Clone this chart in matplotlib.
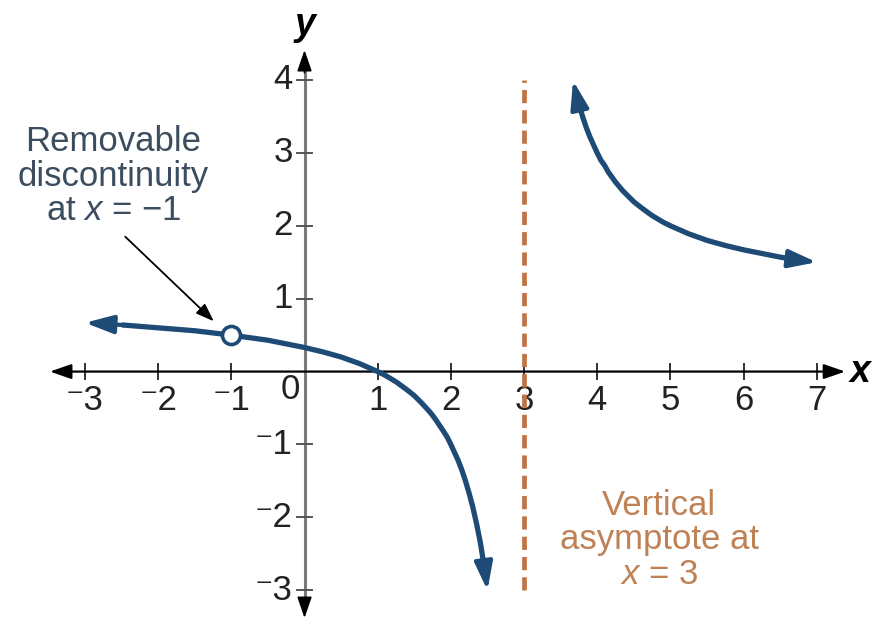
import matplotlib
matplotlib.use("Agg")
import matplotlib.pyplot as plt

plt.rcParams['font.family'] = ['Liberation Sans', 'DejaVu Sans']
plt.rcParams['mathtext.fontset'] = 'custom'
plt.rcParams['mathtext.it'] = 'Liberation Sans:italic'
plt.rcParams['mathtext.rm'] = 'Liberation Sans'

# branch left of the asymptote (x < 3)
left_x = [-3.0, -2.5, -2.0, -1.5, -1.0, -0.5, 0.0, 0.25, 0.5, 0.75, 1.0, 1.1, 1.25,
          1.4, 1.5, 1.6, 1.7, 1.75, 1.8, 1.9, 1.95, 2.0, 2.05, 2.1, 2.15, 2.2,
          2.25, 2.3, 2.35, 2.4, 2.42, 2.45, 2.47, 2.5]
left_y = [0.67, 0.64, 0.60, 0.56, 0.50, 0.43, 0.33, 0.27, 0.20, 0.11, 0.00, -0.05, -0.14,
          -0.25, -0.33, -0.43, -0.54, -0.60, -0.67, -0.82, -0.90, -1.00, -1.11, -1.22, -1.35, -1.50,
          -1.67, -1.86, -2.08, -2.33, -2.45, -2.64, -2.77, -3.00]
# branch right of the asymptote (x > 3)
right_x = [3.67, 3.7, 3.72, 3.75, 3.77, 3.8, 3.82, 3.85, 3.9, 3.95, 4.0, 4.05, 4.1,
           4.15, 4.2, 4.25, 4.35, 4.4, 4.5, 4.6, 4.75, 4.9, 5.0, 5.25, 5.5, 5.75,
           6.0, 6.25, 6.5, 6.75, 7.0]
right_y = [3.99, 3.86, 3.78, 3.67, 3.60, 3.50, 3.44, 3.35, 3.22, 3.11, 3.00, 2.90, 2.83,
           2.74, 2.67, 2.60, 2.48, 2.43, 2.33, 2.25, 2.14, 2.05, 2.00, 1.89, 1.80, 1.73,
           1.67, 1.62, 1.57, 1.53, 1.50]

hole = (-1, 0.5)
asym_x = 3
asym_span = (-3, 4)

x_ticks = [-3, -2, -1, 1, 2, 3, 4, 5, 6, 7]
y_ticks = [-3, -2, -1, 1, 2, 3, 4]

NAVY = '#1d4b76'
ORANGE = '#c07445'
ORANGE_TXT = '#bf8256'
SLATE = '#3b4d5e'
FS = 25


def lab(v):
    return ('\u207b' + str(-v)) if v < 0 else str(v)


fig = plt.figure(figsize=(8.75, 6.3), dpi=100)
ax = fig.add_axes([0, 0, 1, 1])
ax.set_xlim(-4.162, 7.797)
ax.set_ylim(-3.545, 5.097)
ax.axis('off')

# x axis (black, arrow both ends)
ax.annotate('', xy=(7.39, 0), xytext=(-3.48, 0),
            arrowprops=dict(arrowstyle='<|-|>,head_length=13,head_width=4.5',
                            mutation_scale=1, color='black', lw=1.6,
                            shrinkA=0, shrinkB=0))
# y axis (gray shaft, black heads)
ax.plot([0, 0], [-3.2, 4.2], color='#7a7a7a', lw=2.2, zorder=1)
for tip, base in [((0, 4.41), (0, 4.1)), ((0, -3.38), (0, -3.1))]:
    ax.annotate('', xy=tip, xytext=base,
                arrowprops=dict(arrowstyle='-|>,head_length=13,head_width=4.5',
                                mutation_scale=1, color='black', lw=1.2,
                                shrinkA=0, shrinkB=0))

# ticks and tick labels
for v in x_ticks:
    ax.plot([v, v], [-0.1, 0.1], color='#333333', lw=1.4, zorder=2)
    ax.text(v, -0.4, lab(v), ha='center', va='center', fontsize=FS, color='#222222')
ax.text(-0.2, -0.25, '0', ha='center', va='center', fontsize=FS, color='#222222')
for v in y_ticks:
    ax.plot([-0.1, 0.1], [v, v], color='#555555', lw=1.4, zorder=2)
    ax.text(-0.16, v, lab(v), ha='right', va='center', fontsize=FS, color='#222222')

ax.text(7.6, 0, 'x', ha='center', va='center', fontsize=FS + 2,
        style='italic', weight='bold', color='black')
ax.text(0.0, 4.75, 'y', ha='center', va='center', fontsize=FS + 2,
        style='italic', weight='bold', color='black')

# vertical asymptote
ax.plot([asym_x, asym_x], asym_span, color=ORANGE, lw=3.4,
        linestyle=(0, (2.8, 1.5)), zorder=3)

# curve branches with arrowheads at the open ends
def branch(xs, ys, head_start=False):
    ax.plot(xs[1 if head_start else 0:-1], ys[1 if head_start else 0:-1],
            color=NAVY, lw=3.8, solid_capstyle='butt', solid_joinstyle='round', zorder=4)
    ends = [((xs[-1], ys[-1]), (xs[-2], ys[-2]))]
    if head_start:
        ends.append(((xs[0], ys[0]), (xs[1], ys[1])))
    for tip, base in ends:
        ax.annotate('', xy=tip, xytext=base,
                    arrowprops=dict(arrowstyle='-|>,head_length=17,head_width=5.5',
                                    mutation_scale=1, color=NAVY, lw=3.0,
                                    shrinkA=0, shrinkB=0), zorder=4)


branch(left_x, left_y, head_start=True)
branch(right_x, right_y, head_start=True)

# removable discontinuity
ax.plot(*hole, marker='o', ms=13, mfc='white', mec=NAVY, mew=2.6, zorder=5)

ax.text(-2.61, 2.68, 'Removable\ndiscontinuity\nat $x$ = \u22121', ha='center', va='center',
        fontsize=FS, color=SLATE, linespacing=1.05)
ax.annotate('', xy=(-1.24, 0.69), xytext=(-2.45, 1.85),
            arrowprops=dict(arrowstyle='-|>,head_length=11,head_width=4',
                            mutation_scale=1, color='black', lw=1.3,
                            shrinkA=0, shrinkB=0))

ax.text(4.845, -2.31, 'Vertical\nasymptote at\n$x$ = 3', ha='center', va='center',
        fontsize=FS, color=ORANGE_TXT, linespacing=1.05)

fig.savefig('out.png', dpi=100)
